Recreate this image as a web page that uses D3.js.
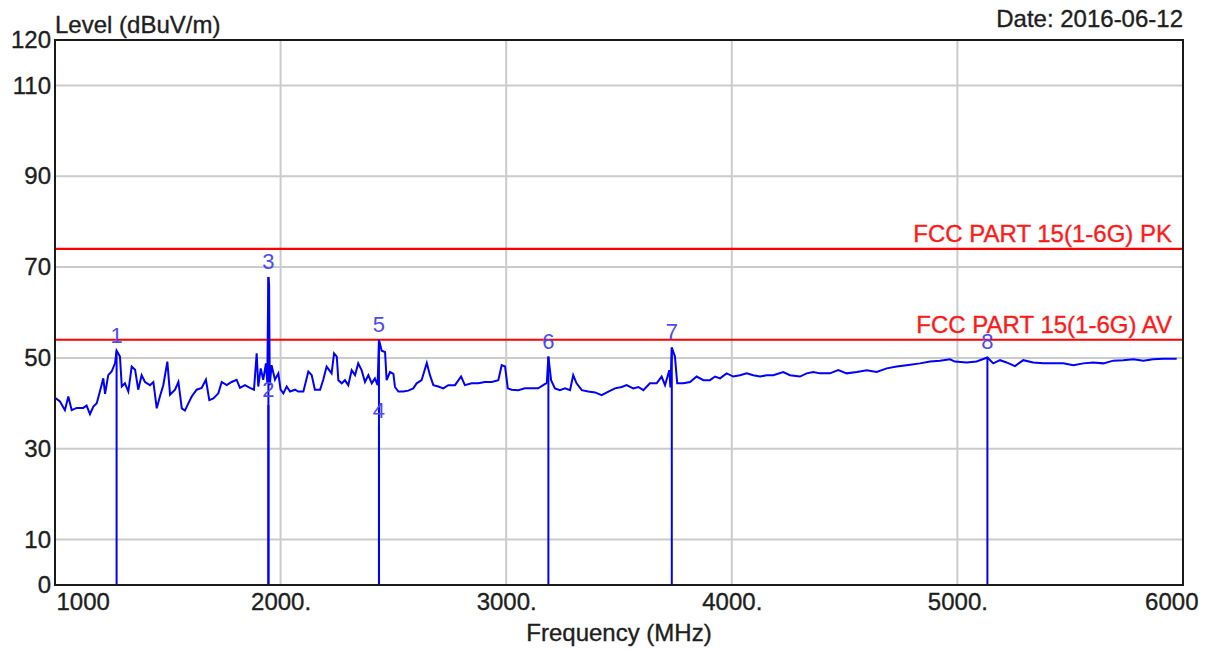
<!DOCTYPE html>
<html>
<head>
	<title>Level vs Frequency</title>
	<style>
		body { margin: 0; background: #fff; }
		svg { display: block; font-family: Arial, "Liberation Sans", sans-serif; }
		.grid line { stroke: #cbcbcb; stroke-width: 2; }
		.trace { fill: none; stroke: #0000ff; stroke-width: 2; stroke-linejoin: miter; }
		.marker { stroke: #0000ff; stroke-width: 2; }
		.limit { stroke: #ff0000; stroke-width: 2.2; }
		.dark { fill: #1e1e1e; stroke: #1e1e1e; stroke-width: 0.35; }
	</style>
	<script src="https://d3js.org/d3.v7.min.js"></script>
</head>
<body>
<svg width="1213" height="651"></svg>
<script>

	// spectrum trace
	var freqs = [1000,1004,1022,1044,1059,1074,1096,1125,1140,1155,1170,1185,1199,1214,1222,1236,1251,1266,1273,1288,
		1296,1310,1325,1340,1355,1369,1384,1399,1421,1436,1451,1465,1480,1498,1510,1532,1547,1562,1576,1591,
		1606,1628,1650,1669,1684,1702,1724,1739,1761,1783,1805,1820,1842,1864,1882,1894,1901,1912,1923,1935,
		1941,1944,1946,1949,1952,1960,1975,1990,2000,2012,2027,2042,2064,2078,2101,2123,2138,2152,2175,2189,
		2204,2226,2237,2249,2256,2271,2285,2300,2315,2330,2344,2359,2374,2389,2404,2418,2430,2436,2448,2463,
		2470,2485,2500,2507,2522,2544,2566,2588,2603,2625,2648,2662,2677,2699,2721,2743,2773,2800,2817,2847,
		2876,2906,2936,2965,2980,2995,3007,3024,3054,3083,3113,3142,3164,3180,3187,3199,3216,3238,3261,3283,
		3297,3312,3335,3364,3394,3423,3453,3482,3512,3534,3563,3586,3608,3637,3667,3689,3704,3723,3728,3734,
		3748,3758,3785,3815,3844,3874,3903,3926,3948,3977,4007,4036,4066,4095,4125,4155,4184,4228,4258,4302,
		4332,4361,4391,4435,4472,4509,4554,4598,4642,4687,4731,4775,4834,4879,4923,4967,4989,5041,5085,5133,
		5159,5189,5218,5255,5292,5336,5381,5425,5469,5514,5558,5602,5647,5691,5735,5780,5824,5868,5913,5972];
	var levels = [41.0,41.1,40.4,38.5,41.5,38.5,39.0,39.0,39.5,37.6,39.3,40.0,42.6,45.5,42.1,46.2,47.0,48.8,51.6,50.3,
		43.7,44.4,42.6,48.1,47.4,43.0,46.2,44.7,44.0,44.7,38.9,41.5,44.0,49.2,41.9,43.0,44.7,38.9,38.4,40.0,
		41.5,43.0,43.4,45.2,40.7,41.1,42.2,44.7,44.0,44.7,45.2,43.4,44.0,43.4,43.0,51.0,43.7,47.7,45.2,48.8,
		44.5,60.0,67.8,66.0,44.0,48.4,45.2,46.6,43.0,42.2,43.7,42.6,43.0,42.6,42.6,47.0,46.2,43.0,43.0,45.2,
		48.1,46.6,51.0,50.3,45.1,44.4,45.1,44.0,47.3,46.2,48.8,47.3,44.7,46.2,44.4,45.5,44.0,54.0,51.6,51.3,
		45.1,46.9,46.5,43.6,42.6,42.6,42.8,43.3,44.4,45.1,48.9,46.2,44.0,43.7,43.3,44.0,44.0,45.9,44.0,44.4,
		44.4,44.7,44.7,45.1,48.4,48.1,43.3,43.0,42.9,43.3,43.3,43.3,44.0,44.5,50.3,45.1,43.3,42.9,43.3,42.9,
		46.2,44.4,42.9,42.6,42.4,41.8,42.6,43.3,43.6,44.0,43.3,43.6,42.9,44.4,44.4,45.9,44.0,47.3,43.5,52.3,
		50.3,44.4,44.4,44.7,45.9,45.1,45.1,45.9,45.5,46.6,45.9,46.2,46.6,46.2,45.9,46.2,46.2,46.9,46.2,45.9,
		46.6,46.9,46.6,46.6,47.3,46.6,46.9,47.3,46.9,47.7,48.1,48.4,48.8,49.2,49.4,49.7,49.2,49.0,49.2,50.1,
		48.8,49.5,49.0,48.2,49.5,49.0,48.8,48.8,48.8,48.4,48.8,49.0,48.8,49.4,49.5,49.7,49.4,49.7,49.8,49.8];

	// markers
	var markerIds = ["1","2","3","4","5","6","7","8"];
	var markerFreqs = [1273,1946,1946,2436,2436,3187,3734,5133];
	var markerLevels = [51.6,39.6,67.8,35.0,54.0,50.3,52.3,50.1];

	// limit lines
	var limitNames = ["FCC PART 15(1-6G) PK","FCC PART 15(1-6G) AV"];
	var limitLevels = [74,54];

	// axes
	var yTicks = [0,10,30,50,70,90,110,120];
	var yGrid = [10,30,50,70,90,110];
	var xTicks = [1000,2000,3000,4000,5000,6000];
	var xTickLabels = ["1000","2000.","3000.","4000.","5000.","6000"];
	var xGrid = [2000,3000,4000,5000];

	var svg = d3.select("svg"),
		pLeft = 55, pRight = 1183, pTop = 40, pBottom = 585;

	var x = d3.scaleLinear().domain([1000, 6000]).range([pLeft, pRight]),
		y = d3.scaleLinear().domain([0, 120]).range([pBottom, pTop]);

	// grid
	var grid = svg.append("g").attr("class", "grid");
	grid.selectAll(".gy").data(yGrid).enter().append("line")
		.attr("x1", pLeft).attr("x2", pRight)
		.attr("y1", function(d) { return y(d); })
		.attr("y2", function(d) { return y(d); });
	grid.selectAll(".gx").data(xGrid).enter().append("line")
		.attr("y1", pTop).attr("y2", pBottom)
		.attr("x1", function(d) { return x(d); })
		.attr("x2", function(d) { return x(d); });

	// limit lines + labels
	svg.selectAll(".limit").data(limitLevels).enter().append("line")
		.attr("class", "limit")
		.attr("x1", pLeft).attr("x2", pRight)
		.attr("y1", function(d) { return y(d); })
		.attr("y2", function(d) { return y(d); });
	svg.selectAll(".limitText").data(limitNames).enter().append("text")
		.attr("x", pRight - 11)
		.attr("y", function(d, i) { return y(limitLevels[i]) - 7; })
		.attr("text-anchor", "end")
		.attr("font-size", "24px")
		.attr("fill", "#ff1a1a")
		.attr("stroke", "#ff1a1a").attr("stroke-width", 0.35)
		.text(function(d) { return d; });

	// trace
	var pts = freqs.map(function(f, i) { return [f, levels[i]]; });
	var line = d3.line()
		.x(function(d) { return x(d[0]); })
		.y(function(d) { return y(d[1]); });
	svg.append("path").datum(pts).attr("class", "trace").attr("d", line);

	// marker lines
	svg.selectAll(".marker").data(markerFreqs).enter().append("line")
		.attr("class", "marker")
		.attr("x1", function(d) { return x(d); })
		.attr("x2", function(d) { return x(d); })
		.attr("y1", y(0))
		.attr("y2", function(d, i) { return y(markerLevels[i]); });
	svg.selectAll(".markerText").data(markerIds).enter().append("text")
		.attr("x", function(d, i) { return x(markerFreqs[i]); })
		.attr("y", function(d, i) { return y(markerLevels[i]) - 8; })
		.attr("text-anchor", "middle")
		.attr("font-size", "22px")
		.attr("fill", "#4b4bf5")
		.text(function(d) { return d; });

	// frame
	svg.append("rect")
		.attr("x", pLeft).attr("y", pTop)
		.attr("width", pRight - pLeft).attr("height", pBottom - pTop)
		.attr("fill", "none").attr("stroke", "#1a1a1a").attr("stroke-width", 2);

	// Y axis labels
	var yAxis = svg.append("g")
		.attr("transform", "translate(" + pLeft + ",0)")
		.call(d3.axisLeft(y).tickValues(yTicks).tickSize(0).tickPadding(4));
	yAxis.select(".domain").remove();
	yAxis.selectAll("text")
		.attr("class", "dark")
		.attr("font-size", "24px")
		.attr("font-family", "Arial, 'Liberation Sans', sans-serif");

	// X axis labels
	var xAxis = svg.append("g")
		.attr("transform", "translate(0," + pBottom + ")")
		.call(d3.axisBottom(x).tickValues(xTicks).tickSize(0).tickPadding(8)
			.tickFormat(function(d, i) { return xTickLabels[i]; }));
	xAxis.select(".domain").remove();
	xAxis.selectAll("text")
		.attr("class", "dark")
		.attr("font-size", "24px")
		.attr("font-family", "Arial, 'Liberation Sans', sans-serif")
		.attr("text-anchor", function(d, i) { return i == 0 ? "start" : i == xTicks.length - 1 ? "end" : "middle"; })
		.attr("x", function(d, i) { return i == 0 ? 1 : i == xTicks.length - 1 ? 15 : 0; });

	// titles
	svg.append("text")
		.attr("class", "dark")
		.attr("x", pLeft).attr("y", 33)
		.attr("font-size", "24px")
		.text("Level (dBuV/m)");
	svg.append("text")
		.attr("class", "dark")
		.attr("x", pRight).attr("y", 27)
		.attr("text-anchor", "end")
		.attr("font-size", "24px")
		.text("Date: 2016-06-12");
	svg.append("text")
		.attr("class", "dark")
		.attr("x", (pLeft + pRight) / 2).attr("y", 641)
		.attr("text-anchor", "middle")
		.attr("font-size", "24px")
		.text("Frequency (MHz)");

</script>
</body>
</html>
